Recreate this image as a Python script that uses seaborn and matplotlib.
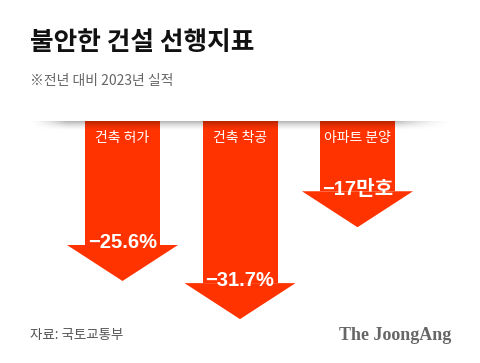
import numpy as np
import pandas as pd
import matplotlib
matplotlib.use("Agg")
import matplotlib.pyplot as plt
import seaborn as sns

categories = ["건축 허가", "건축 착공", "아파트 분양"]
values = [25.6, 31.7, 17]
value_labels = ["−25.6%", "−31.7%", "−17만호"]

title = "불안한 건설 선행지표"
subtitle = "※전년 대비 2023년 실적"
source = "자료: 국토교통부"
logo = "The JoongAng"

RED = "#ff3300"
KR = ["Noto Sans CJK KR", "DejaVu Sans"]
NUM = ["Liberation Sans", "Noto Sans CJK KR", "DejaVu Sans"]

sns.set_theme(style="white")
plt.rcParams["font.family"] = KR

W, H = 480, 363
fig = plt.figure(figsize=(W / 100, H / 100), dpi=100)
ax = fig.add_axes([0, 0, 1, 1])

# pixel layout -> data units
top_px = 121
scale = 6.25          # px per unit of value
x0_px, step_px = 122.5, 117.5
head_len = 36 / scale
head_half = 55.5 / step_px
shaft_w = 75 / step_px

df = pd.DataFrame({"cat": categories, "val": values})
df["neg"] = -df["val"]

sns.barplot(data=df, x="cat", y="neg", color=RED, saturation=1,
            width=shaft_w, linewidth=0, ax=ax)

for i, (p, v) in enumerate(zip(ax.patches, values)):
    # shorten shaft so the head sits on top of it
    p.set_height(-(v - head_len))
    cx = p.get_x() + p.get_width() / 2
    ys = -(v - head_len)
    ax.fill([cx - head_half, cx + head_half, cx],
            [ys, ys, -v], color=RED, lw=0, zorder=3)
    ax.text(cx, -2.75, categories[i], color="white", fontsize=10,
            fontweight="medium", ha="center", va="center", zorder=6)
    ax.text(cx, ys + 0.35, value_labels[i], color="white", fontsize=14.5,
            fontweight="bold", family=NUM, ha="center", va="center", zorder=6)

ax.set_xlim(-x0_px / step_px, (W - x0_px) / step_px)
ax.set_ylim(-(H - top_px) / scale, top_px / scale)
ax.axis("off")

# soft shadow under the top edge
nx, ny = 300, 40
xs = np.linspace(0, 1, nx)
hprof = np.clip(np.minimum(xs / 0.09, (1 - xs) / 0.14), 0, 1) ** 1.5
vprof = np.linspace(1, 0, ny) ** 1.6
alpha = 0.3 * np.outer(vprof, hprof)
img = np.zeros((ny, nx, 4))
img[..., 3] = alpha
ax.imshow(img, extent=[(28 - x0_px) / step_px, (452 - x0_px) / step_px,
                       -(131 - top_px) / scale, 0],
          aspect="auto", zorder=5, interpolation="bilinear")

fig.text(30 / W, 1 - 42 / H, title, fontsize=18.5, fontweight="black",
         color="#111111", ha="left", va="center")
fig.text(30 / W, 1 - 81 / H, subtitle, fontsize=10, color="#666666",
         ha="left", va="center")
fig.text(30 / W, 1 - 335 / H, source, fontsize=9.7, color="#555555",
         ha="left", va="center")
fig.text(451 / W, 1 - 335 / H, logo, fontsize=13, fontweight="bold",
         family="Liberation Serif", color="#666666", ha="right", va="center")

fig.savefig("out.png", dpi=100, facecolor="white")
